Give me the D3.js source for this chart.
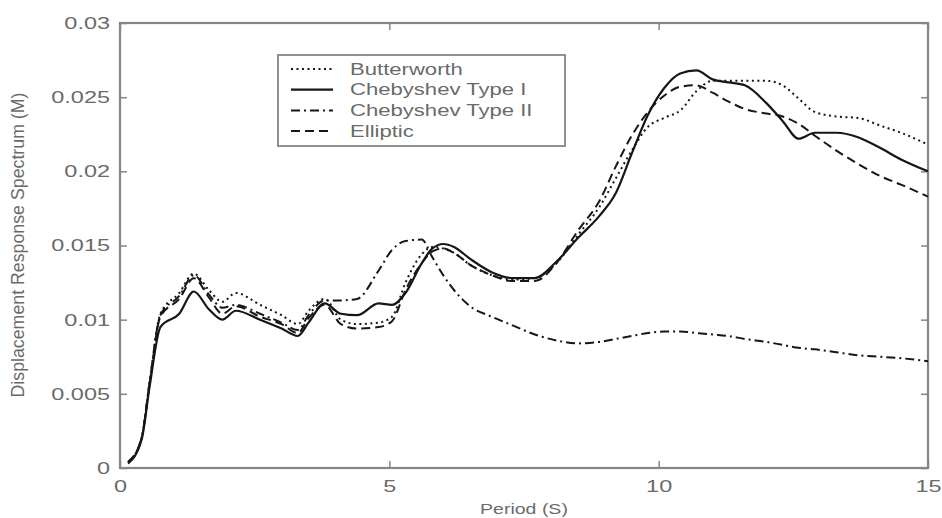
<!DOCTYPE html>
<html lang="en">
<head>
    <meta charset="UTF-8">
    <title>Displacement Response Spectrum</title>
    <script src="https://d3js.org/d3.v7.min.js"></script>
    <style>
        body { margin: 0; background: #fff; }
        text { font-family: "Liberation Sans", Arial, sans-serif; fill: #6a6a6a; }
    </style>
</head>
<body>
<script>
    // period grid (s) shared by all four filters
    var periods = [0.15, 0.4, 0.55, 0.75, 1.1, 1.37, 1.65, 1.9, 2.15, 2.6, 3.0, 3.3, 3.5, 3.8, 4.1, 4.4,
        4.8, 5.05, 5.3, 5.6, 5.8, 6.0, 6.2, 6.5, 6.9, 7.3, 7.7, 8.1, 8.5, 8.9, 9.2, 9.5, 9.8, 10.1,
        10.4, 10.7, 11.0, 11.3, 11.6, 12.0, 12.3, 12.6, 12.9, 13.3, 13.7, 14.1, 14.5, 15.0];

    var butterworth = [0.0004, 0.0020, 0.0058, 0.0104, 0.0118, 0.0131, 0.0120, 0.0112, 0.0118, 0.0110,
        0.0103, 0.0097, 0.0106, 0.0114, 0.0100, 0.0097, 0.0098, 0.0102, 0.0125, 0.0144, 0.0149, 0.0148,
        0.0145, 0.0137, 0.0130, 0.0127, 0.0128, 0.0138, 0.0157, 0.0176, 0.0195, 0.0214, 0.0230, 0.0236,
        0.0241, 0.0254, 0.0261, 0.0261, 0.0261, 0.0261, 0.0258, 0.0249, 0.0240, 0.0237, 0.0236, 0.0231,
        0.0226, 0.0218];

    var chebyshev1 = [0.0003, 0.0019, 0.0055, 0.0095, 0.0104, 0.0119, 0.0107, 0.0100, 0.0106, 0.0100,
        0.0094, 0.0089, 0.0098, 0.0111, 0.0104, 0.0103, 0.0111, 0.0110, 0.0118, 0.0138, 0.0148, 0.0151,
        0.0149, 0.0141, 0.0132, 0.0128, 0.0128, 0.0139, 0.0155, 0.0170, 0.0185, 0.0212, 0.0238, 0.0256,
        0.0266, 0.0268, 0.0262, 0.0260, 0.0258, 0.0246, 0.0234, 0.0222, 0.0226, 0.0226, 0.0223, 0.0216,
        0.0208, 0.0200];

    var chebyshev2 = [0.0004, 0.0020, 0.0058, 0.0103, 0.0116, 0.0130, 0.0117, 0.0108, 0.0110, 0.0104,
        0.0098, 0.0093, 0.0103, 0.0113, 0.0113, 0.0114, 0.0133, 0.0147, 0.0153, 0.0154, 0.0142, 0.0130,
        0.0120, 0.0109, 0.0102, 0.0096, 0.0090, 0.0086, 0.0084, 0.0085, 0.0087, 0.0089, 0.0091, 0.0092,
        0.0092, 0.0091, 0.0090, 0.0089, 0.0087, 0.0085, 0.0083, 0.0081, 0.0080, 0.0078, 0.0076, 0.0075,
        0.0074, 0.0072];

    var elliptic = [0.0004, 0.0020, 0.0057, 0.0102, 0.0114, 0.0128, 0.0115, 0.0104, 0.0109, 0.0102,
        0.0097, 0.0091, 0.0101, 0.0110, 0.0097, 0.0094, 0.0095, 0.0099, 0.0120, 0.0138, 0.0146, 0.0148,
        0.0145, 0.0137, 0.0130, 0.0126, 0.0126, 0.0138, 0.0160, 0.0180, 0.0203, 0.0224, 0.0240, 0.0251,
        0.0257, 0.0258, 0.0253, 0.0247, 0.0242, 0.0239, 0.0237, 0.0232, 0.0224, 0.0214, 0.0205, 0.0197,
        0.0191, 0.0183];

    var seriesNames = ["Butterworth", "Chebyshev Type I", "Chebyshev Type II", "Elliptic"];
    var seriesValues = [butterworth, chebyshev1, chebyshev2, elliptic];
    var xTicks = [0, 5, 10, 15];
    var yTicks = [0, 0.005, 0.01, 0.015, 0.02, 0.025, 0.03];

    // line styles, same order as the names
    var dashes = ["2,3.5", null, "9,4,2,4", "9,5"];
    var widths = [2, 2.2, 2, 2];

    var margin = {top: 23, right: 14, bottom: 50, left: 120},
        width = 942 - margin.left - margin.right,
        height = 518 - margin.top - margin.bottom;

    var stretch = 1.38; // the labels in the picture are drawn wide

    var svgRoot = d3.select("body").append("svg")
        .attr("width", 942)
        .attr("height", 518);
    var svg = svgRoot.append("g")
        .attr("transform", "translate(" + margin.left + "," + margin.top + ")");

    var x = d3.scaleLinear().domain([0, 15]).range([0, width]);
    var y = d3.scaleLinear().domain([0, 0.03]).range([height, 0]);

    var axisColor = "#858585";

    // axes with inward ticks on all four sides
    function styleAxis(g) {
        g.select(".domain").remove();
        g.selectAll(".tick line").attr("stroke", axisColor).attr("stroke-width", 1.5);
    }
    svg.append("g").attr("transform", "translate(0," + height + ")")
        .call(d3.axisBottom(x).tickValues(xTicks).tickSizeInner(-7).tickSizeOuter(0).tickFormat(d3.format("d")))
        .call(styleAxis)
        .selectAll("text").attr("y", 12).attr("dy", "0.71em");
    svg.append("g")
        .call(d3.axisTop(x).tickValues(xTicks).tickSizeInner(-7).tickSizeOuter(0).tickFormat(""))
        .call(styleAxis);
    svg.append("g")
        .call(d3.axisLeft(y).tickValues(yTicks).tickSizeInner(-7).tickSizeOuter(0).tickFormat(d => d === 0 ? "0" : d3.format("")(+d.toFixed(3))))
        .call(styleAxis)
        .selectAll("text").attr("x", -10);
    svg.append("g").attr("transform", "translate(" + width + ",0)")
        .call(d3.axisRight(y).tickValues(yTicks).tickSizeInner(-7).tickSizeOuter(0).tickFormat(""))
        .call(styleAxis);

    svg.selectAll(".tick text")
        .style("font-family", "Liberation Sans, Arial, sans-serif")
        .style("font-size", "17px")
        .attr("fill", "#6a6a6a");

    // frame
    svg.append("rect")
        .attr("width", width).attr("height", height)
        .attr("fill", "none").attr("stroke", axisColor).attr("stroke-width", 2.2);

    // curves
    var line = d3.line()
        .curve(d3.curveMonotoneX)
        .x((d, i) => x(periods[i]))
        .y(d => y(d));

    svg.append("g").selectAll("path")
        .data(seriesValues)
        .enter().append("path")
        .attr("d", line)
        .attr("fill", "none")
        .attr("stroke", "#161616")
        .attr("stroke-width", (d, i) => widths[i])
        .attr("stroke-linejoin", "round")
        .attr("stroke-dasharray", (d, i) => dashes[i]);

    // legend
    var legend = svg.append("g").attr("transform", "translate(158,32)");
    legend.append("rect")
        .attr("width", 287).attr("height", 91)
        .attr("fill", "#fff").attr("stroke", axisColor).attr("stroke-width", 1.8);
    seriesNames.forEach(function(name, i) {
        var ly = 14 + i * 20.7;
        legend.append("line")
            .attr("x1", 13).attr("x2", 55).attr("y1", ly).attr("y2", ly)
            .attr("stroke", "#161616").attr("stroke-width", widths[i])
            .attr("stroke-dasharray", dashes[i]);
        legend.append("text")
            .attr("class", "legend-label")
            .attr("x", 72).attr("y", ly).attr("dy", "0.36em")
            .style("font-size", "16px")
            .text(name);
    });

    // axis titles
    svg.append("text")
        .attr("class", "x-title")
        .attr("x", width / 2).attr("y", height + 46)
        .attr("text-anchor", "middle")
        .style("font-size", "15px")
        .text("Period (S)");

    svgRoot.append("text")
        .attr("transform", "translate(24,245) rotate(-90) scale(1,1.3)")
        .attr("text-anchor", "middle")
        .attr("textLength", 305)
        .attr("lengthAdjust", "spacingAndGlyphs")
        .style("font-size", "14px")
        .text("Displacement Response Spectrum (M)");

    // widen horizontal labels to match the picture
    svgRoot.selectAll(".tick text, .legend-label").each(function() {
        var len = this.getComputedTextLength();
        d3.select(this).attr("textLength", len * stretch).attr("lengthAdjust", "spacingAndGlyphs");
    });
    svg.selectAll(".x-title").each(function() {
        var len = this.getComputedTextLength();
        d3.select(this).attr("textLength", len * 1.3).attr("lengthAdjust", "spacingAndGlyphs");
    });
</script>
</body>
</html>
